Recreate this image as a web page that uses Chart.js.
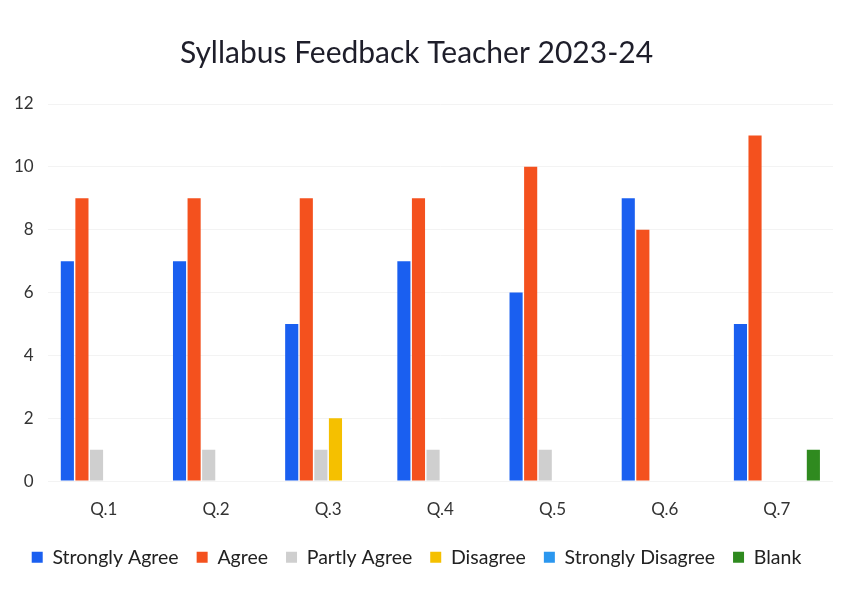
<!DOCTYPE html>
<html>
<head>
<meta charset="utf-8">
<script src="https://cdn.jsdelivr.net/npm/chart.js@4"></script>
<style>
  html, body { margin: 0; padding: 0; background: #fff; }
  #wrap { width: 849px; height: 592px; }
</style>
</head>
<body>
<div id="wrap"><canvas id="myChart"></canvas></div>
<script>
const questions = ['Q.1', 'Q.2', 'Q.3', 'Q.4', 'Q.5', 'Q.6', 'Q.7'];
const stronglyAgree = [7, 7, 5, 7, 6, 9, 5];
const agree = [9, 9, 9, 9, 10, 8, 11];
const partlyAgree = [1, 1, 1, 1, 1, 0, 0];
const disagree = [0, 0, 2, 0, 0, 0, 0];
const stronglyDisagree = [0, 0, 0, 0, 0, 0, 0];
const blank = [0, 0, 0, 0, 0, 0, 1];

const ctx = document.getElementById('myChart').getContext('2d');

const myChart = new Chart(ctx, {
    type: 'bar',
    data: {
        labels: questions,
        datasets: [
            { label: 'Strongly Agree', data: stronglyAgree, backgroundColor: '#1a5ff0' },
            { label: 'Agree', data: agree, backgroundColor: '#f4511e' },
            { label: 'Partly Agree', data: partlyAgree, backgroundColor: '#cfcfcf' },
            { label: 'Disagree', data: disagree, backgroundColor: '#f5c000' },
            { label: 'Strongly Disagree', data: stronglyDisagree, backgroundColor: '#2b97ef' },
            { label: 'Blank', data: blank, backgroundColor: '#2f8a1f' }
        ]
    },
    options: {
        responsive: true,
        maintainAspectRatio: false,
        animation: false,
        datasets: {
            bar: { categoryPercentage: 0.78, barPercentage: 0.9 }
        },
        layout: { padding: { left: 0, right: 16, top: 10, bottom: 15 } },
        plugins: {
            title: {
                display: true,
                text: 'Syllabus Feedback Teacher 2023-24',
                color: '#1e1e2a',
                font: { family: 'Lato', size: 30, weight: 'normal' },
                padding: { top: 25, bottom: 33 }
            },
            legend: {
                position: 'bottom',
                labels: {
                    color: '#222',
                    font: { family: 'Lato', size: 19.5 },
                    boxWidth: 11,
                    boxHeight: 11,
                    padding: 18
                }
            },
            tooltip: { mode: 'index', intersect: false }
        },
        scales: {
            x: {
                grid: { display: false },
                border: { display: false },
                ticks: { color: '#333', font: { family: 'Lato', size: 17 }, padding: 10 }
            },
            y: {
                min: 0,
                max: 12,
                ticks: { stepSize: 2, color: '#333', font: { family: 'Lato', size: 17 }, padding: 14 },
                grid: { color: '#f3f3f3', drawTicks: false },
                border: { display: false }
            }
        }
    }
});
</script>
</body>
</html>
